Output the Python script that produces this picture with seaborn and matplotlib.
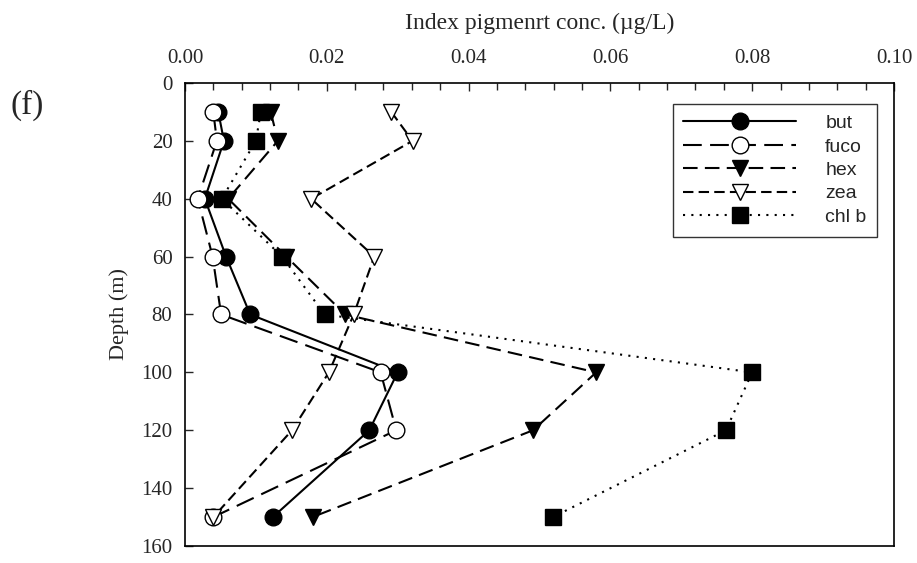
import matplotlib
matplotlib.use("Agg")
import matplotlib.pyplot as plt
import seaborn as sns
from matplotlib.ticker import MultipleLocator, FormatStrFormatter

depth = [10, 20, 40, 60, 80, 100, 120, 150]

but = [0.0047, 0.0055, 0.0028, 0.0058, 0.0092, 0.0300, 0.0260, 0.0124]
fuco = [0.0040, 0.0045, 0.0018, 0.0039, 0.0051, 0.0276, 0.0298, 0.0040]
hex_ = [0.0121, 0.0131, 0.0061, 0.0143, 0.0226, 0.0580, 0.0491, 0.0180]
zea = [0.0291, 0.0321, 0.0178, 0.0267, 0.0238, 0.0203, 0.0151, 0.0040]
chlb = [0.0107, 0.0100, 0.0052, 0.0137, 0.0197, 0.0800, 0.0763, 0.0519]

names = ["but", "fuco", "hex", "zea", "chl b"]

sns.set_style("ticks")
plt.rcParams["font.family"] = ["Liberation Serif", "DejaVu Serif"]

fig = plt.figure(figsize=(9.17, 5.63), dpi=100)
ax = fig.add_axes([0.2017, 0.0302, 0.7732, 0.8224])

# estilo de cada serie: marcador, preenchimento, tipo de linha
estilos = {
    "but": dict(marker="o", markerfacecolor="black", markersize=12, linestyle="-"),
    "fuco": dict(marker="o", markerfacecolor="white", markersize=12, linestyle=(0, (9, 4))),
    "hex": dict(marker="v", markerfacecolor="black", markersize=12, linestyle=(0, (7, 3.5))),
    "zea": dict(marker="v", markerfacecolor="white", markersize=12, linestyle=(0, (5, 2.5))),
    "chl b": dict(marker="s", markerfacecolor="black", markersize=11, linestyle=(0, (1, 3))),
}
valores = {"but": but, "fuco": fuco, "hex": hex_, "zea": zea, "chl b": chlb}

for nome in names:
    sns.lineplot(
        x=valores[nome],
        y=depth,
        orient="y",
        sort=False,
        color="black",
        linewidth=1.5,
        markeredgecolor="black",
        markeredgewidth=1.0,
        label=nome,
        ax=ax,
        **estilos[nome],
    )

ax.set_xlim(0, 0.10)
ax.set_ylim(160, 0)

ax.xaxis.tick_top()
ax.xaxis.set_label_position("top")
ax.xaxis.set_major_locator(MultipleLocator(0.02))
ax.xaxis.set_minor_locator(MultipleLocator(0.004))
ax.xaxis.set_major_formatter(FormatStrFormatter("%.2f"))
ax.yaxis.set_major_locator(MultipleLocator(20))

ax.tick_params(axis="x", which="both", direction="in", top=True, bottom=False,
               labelsize=15, pad=11, length=6, width=1)
ax.tick_params(axis="x", which="minor", length=5)
ax.tick_params(axis="y", which="both", direction="in", left=True, right=False,
               labelsize=15, pad=9, length=6, width=1)

for s in ax.spines.values():
    s.set_visible(True)
    s.set_linewidth(1.2)
    s.set_color("black")

ax.set_xlabel("Index pigmenrt conc. (\u00b5g/L)", fontsize=17, labelpad=14)
ax.set_ylabel("Depth (m)", fontsize=16, labelpad=9)

leg = ax.legend(
    loc="upper right",
    bbox_to_anchor=(0.990, 0.976),
    frameon=True,
    fancybox=False,
    edgecolor="black",
    handlelength=5.8,
    handletextpad=1.5,
    labelspacing=0.3,
    borderpad=0.55,
    prop={"family": "Liberation Sans", "size": 14},
)
leg.get_frame().set_linewidth(1.0)

fig.text(0.011, 0.812, "(f)", fontsize=24, ha="left", va="center")

fig.savefig("out.png", dpi=100)
